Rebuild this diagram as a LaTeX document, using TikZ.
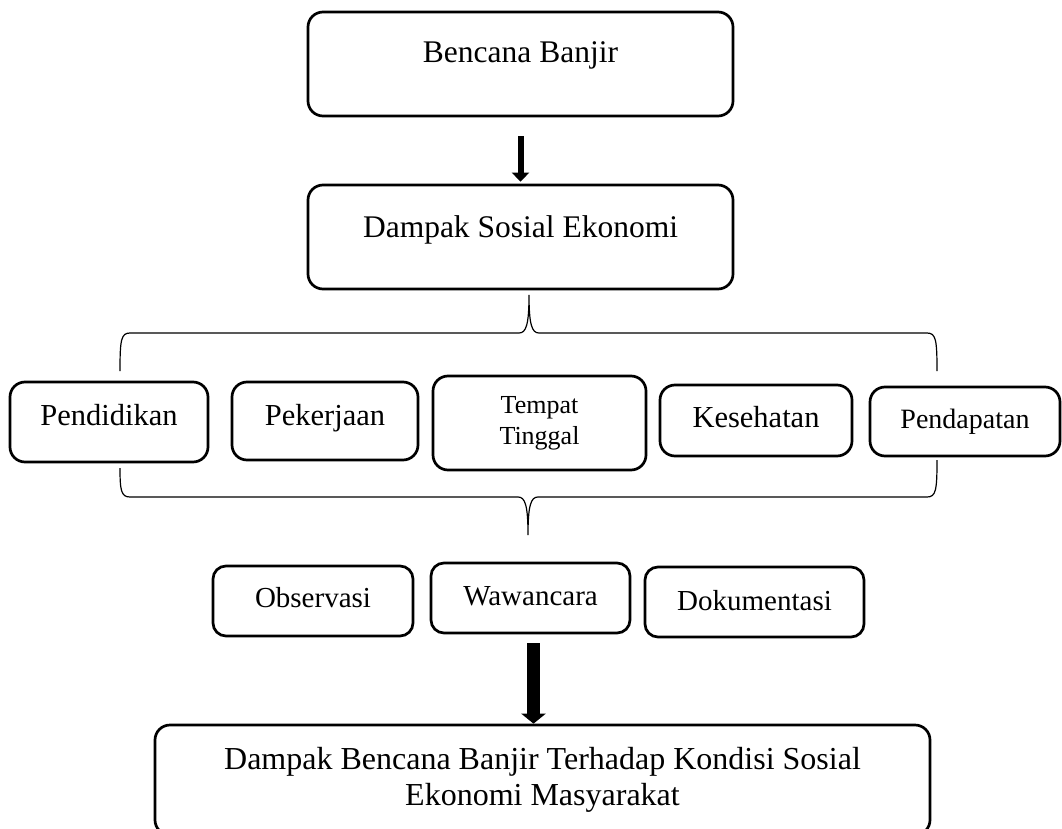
\documentclass[tikz,border=0pt]{standalone}
\usepackage{fontspec}
\setmainfont{Liberation Serif}
\usepackage{tikz}
\usetikzlibrary{arrows.meta,positioning}

\tikzset{
  kotak/.style={draw, line width=2.7pt, rounded corners=15pt, inner sep=0pt},
  kurung/.style={line width=1.2pt},
  panah/.style={line width=6pt, -{Triangle[width=17pt,length=9pt]}},
  panahbesar/.style={line width=13pt, -{Triangle[width=24pt,length=10pt]}},
}

\begin{document}
\begin{tikzpicture}[x=1pt, y=-1pt]
  \path[use as bounding box, fill=white] (0,0) rectangle (1062,829);
  \clip (0,0) rectangle (1062,829);

  % Kotak atas
  \node[kotak, minimum width=425pt, text height=51pt, text depth=53pt, font=\fontsize{31.5}{36}\selectfont] (banjir) at (520.5,64) {Bencana Banjir};
  \node[kotak, minimum width=425pt, text height=52pt, text depth=52pt, font=\fontsize{31.5}{36}\selectfont] (dampak) at (520.5,237) {Dampak Sosial Ekonomi};
  \draw[panah] ([yshift=-19pt]banjir.south) -- ([yshift=2pt]dampak.north);

  % Kurung atas
  \draw[kurung] (120,371) .. controls (120,340) and (121,333) .. (130,333) -- (519,333)
    .. controls (526,333) and (529,325) .. (529,295)
    .. controls (529,325) and (532,333) .. (539,333) -- (927,333)
    .. controls (936,333) and (937,340) .. (937,371);

  % Aspek dampak
  \node[kotak, minimum width=198pt, text height=43pt, text depth=37pt, font=\fontsize{30.5}{36}\selectfont] (pendidikan) at (109,422) {Pendidikan};
  \node[kotak, minimum width=186pt, text height=43pt, text depth=35pt, font=\fontsize{30.5}{36}\selectfont] (pekerjaan) at (325,421) {Pekerjaan};
  \node[kotak, align=center, minimum width=213pt, minimum height=94pt, font=\fontsize{26}{31}\selectfont] (tempat) at (539.5,423) {Tempat\\Tinggal};
  \node[kotak, minimum width=192pt, text height=42pt, text depth=29pt, font=\fontsize{30.5}{36}\selectfont] (kesehatan) at (756,420.5) {Kesehatan};
  \node[kotak, minimum width=190pt, text height=41pt, text depth=28pt, font=\fontsize{28}{34}\selectfont] (pendapatan) at (965,421.5) {Pendapatan};

  % Kurung bawah
  \draw[kurung] (120,468) .. controls (120,490) and (121,497) .. (130,497) -- (518,497)
    .. controls (525,497) and (528,505) .. (528,535)
    .. controls (528,505) and (531,497) .. (538,497) -- (927,497)
    .. controls (936,497) and (937,490) .. (937,460);

  % Metode
  \node[kotak, rounded corners=13pt, minimum width=200pt, text height=41pt, text depth=29pt, font=\fontsize{29}{34}\selectfont] (observasi) at (313,601) {Observasi};
  \node[kotak, rounded corners=13pt, minimum width=199pt, text height=42pt, text depth=28pt, font=\fontsize{29}{34}\selectfont] (wawancara) at (530.5,598) {Wawancara};
  \node[kotak, rounded corners=13pt, minimum width=219pt, text height=43pt, text depth=27pt, font=\fontsize{29}{34}\selectfont] (dokumentasi) at (754.5,602) {Dokumentasi};

  % Hasil
  \node[kotak, align=center, minimum width=775pt, minimum height=110pt, font=\fontsize{32}{36}\selectfont] (hasil) at (542.5,780) {Dampak Bencana Banjir Terhadap Kondisi Sosial\\Ekonomi Masyarakat};
  \draw[panahbesar] ([xshift=3pt,yshift=-9pt]wawancara.south) -- ([xshift=-9pt]hasil.north);
\end{tikzpicture}
\end{document}
